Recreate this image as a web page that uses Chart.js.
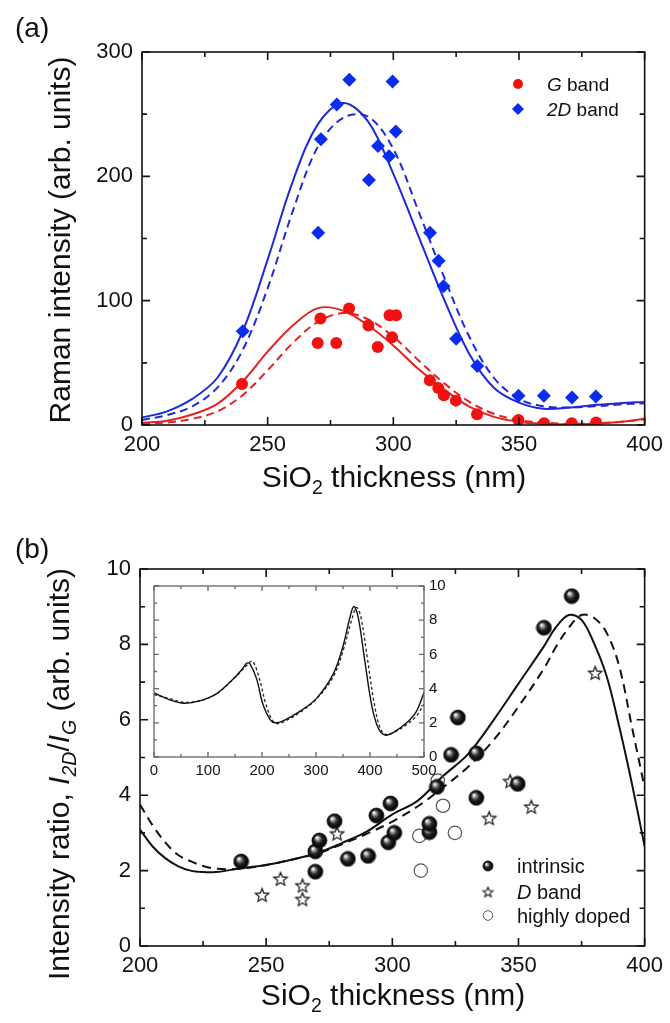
<!DOCTYPE html>
<html><head><meta charset="utf-8">
<script src="https://cdn.jsdelivr.net/npm/chart.js@4.4.1/dist/chart.umd.min.js"></script>
<style>
html,body{margin:0;padding:0;background:#fff;}
#wrap{position:relative;width:670px;height:1023px;overflow:hidden;font-family:"Liberation Sans",Arial,sans-serif;color:#111;}
canvas{position:absolute;}
.t{position:absolute;white-space:nowrap;font-size:30px;line-height:30px;}
.p{position:absolute;white-space:nowrap;font-size:28px;line-height:28px;}
.sub{font-size:0.65em;position:relative;top:0.38em;}
</style></head><body>
<div id="wrap">
<canvas id="ca" width="670" height="500" style="left:0;top:0;width:670px;height:500px"></canvas>
<canvas id="cb" width="670" height="523" style="left:0;top:500px;width:670px;height:523px"></canvas>
<canvas id="ci" width="340" height="210" style="left:124px;top:572px;width:340px;height:210px"></canvas>
<div class="p" style="left:15px;top:14px">(a)</div>
<div class="p" style="left:15px;top:535px">(b)</div>
<div class="t" style="left:394px;top:462px;transform:translateX(-50%)">SiO<span class="sub">2</span> thickness (nm)</div>
<div class="t" style="left:393px;top:980px;transform:translateX(-50%)">SiO<span class="sub">2</span> thickness (nm)</div>
<div class="t" style="left:60px;top:240px;transform:translate(-50%,-50%) rotate(-90deg)">Raman intensity (arb. units)</div>
<div class="t" style="left:60px;top:774px;transform:translate(-50%,-50%) rotate(-90deg)">Intensity ratio, <i>I</i><span class="sub"><i>2D</i></span>/<i>I</i><span class="sub"><i>G</i></span> (arb. units)</div>
</div>
<script>
// ---------- Panel (a) data ----------
const aTicksX = [200, 250, 300, 350, 400];
const aTicksY = [0, 100, 200, 300];
const gBandX = [239.8, 271, 269.9, 277.3, 282.4, 290.1, 293.8, 298.5, 301.1, 299.5, 314.5, 317.9, 320.1, 324.9, 333.3, 349.8, 360, 371, 380.7];
const gBandY = [33, 85.6, 66, 66, 93.8, 80, 62.7, 88.3, 88.3, 70.6, 36, 29.7, 24, 19.6, 8.7, 4, 1.5, 1.5, 2];
const dBandX = [240.1, 270.1, 271.2, 277.5, 282.5, 290.3, 293.9, 298.3, 299.7, 301, 314.6, 318, 320, 325, 333.4, 349.8, 359.9, 371.1, 380.6];
const dBandY = [75.4, 154.6, 229.8, 257.7, 277.6, 197, 224.3, 216.1, 276.2, 236, 154.6, 132.2, 111.5, 69.4, 47.5, 23.5, 23.5, 22.1, 23];
const aCurveX = [200, 210, 220, 230, 240, 250, 260, 270, 280, 290, 300, 310, 320, 330, 340, 350, 360, 370, 380, 390, 400];
const blueSolid = [6, 11, 21, 38, 75, 133, 196, 242, 259, 244, 202, 152, 102, 58, 30, 18, 13, 14, 16, 17.5, 18.6];
const blueDash = [4, 8, 15, 30, 60, 110, 172, 224, 247, 248, 222, 172, 120, 72, 38, 21, 15, 14, 15, 16.5, 17.5];
const redSolid = [1.6, 3.5, 8.5, 17, 35, 59, 80, 94, 92, 80, 64, 45, 29, 15, 6.5, 2.5, 1, 0.5, 1, 2.5, 5];
const redDash = [1, 2, 5, 11, 24, 44, 66, 83, 90, 85, 71, 52, 34, 19, 9, 4, 2, 1, 1.5, 2.5, 4.5];

// ---------- Panel (b) data ----------
const bTicksX = [200, 250, 300, 350, 400];
const bTicksY = [0, 2, 4, 6, 8, 10];
const intrinsicX = [240.1, 269.5, 269.5, 271.1, 277.1, 282.4, 290.4, 293.7, 298.4, 299.3, 300.8, 314.7, 314.7, 317.7, 323.3, 326, 333.3, 333.3, 349.7, 360.1, 371.1];
const intrinsicY = [2.24, 1.97, 2.51, 2.8, 3.31, 2.31, 2.39, 3.46, 2.75, 3.78, 3.0, 3.02, 3.24, 4.22, 5.07, 6.06, 5.11, 3.93, 4.3, 8.44, 9.28];
const dStarX = [248.4, 255.7, 264.4, 264.4, 278.1, 338.4, 346.7, 355.1, 380.4];
const dStarY = [1.35, 1.78, 1.6, 1.24, 2.98, 3.39, 4.37, 3.69, 7.24];
const dopedX = [310.7, 311.3, 320.1, 324.8, 318];
const dopedY = [2.92, 2.0, 3.72, 3.0, 4.39];
const bCurveX = [200, 205, 210, 215, 220, 225, 230, 240, 250, 260, 270, 280, 290, 300, 310, 320, 330, 340, 350, 360, 365, 370, 375, 380, 385, 390, 395, 400];
const ratioSolid = [3.09, 2.64, 2.33, 2.12, 2.0, 1.96, 1.96, 2.06, 2.15, 2.29, 2.46, 2.73, 3.04, 3.49, 3.85, 4.5, 5.09, 5.98, 6.96, 7.94, 8.47, 8.78, 8.65, 8.02, 7.14, 5.8, 4.29, 2.64];
const ratioDash = [3.75, 3.2, 2.75, 2.42, 2.25, 2.12, 2.05, 2.05, 2.15, 2.29, 2.45, 2.7, 2.98, 3.3, 3.7, 4.2, 4.75, 5.45, 6.35, 7.35, 7.95, 8.45, 8.78, 8.7, 8.3, 7.4, 5.8, 4.2];

// ---------- Inset data ----------
const insetTicksX = [0, 100, 200, 300, 400, 500];
const insetTicksY = [0, 2, 4, 6, 8, 10];
const insetSolidX = [0, 30, 55, 85, 116, 147, 165, 172, 178, 190, 202, 215, 224, 240, 270, 301, 332, 350, 363, 370, 378, 390, 403, 415, 428, 443, 468, 486, 500];
const insetSolidY = [3.75, 3.33, 3.14, 3.28, 3.71, 4.57, 5.2, 5.49, 5.43, 4.57, 3.05, 2.19, 2.0, 2.13, 2.67, 3.43, 4.86, 6.48, 8.19, 8.8, 8.19, 5.71, 3.05, 1.71, 1.28, 1.43, 2.0, 2.67, 3.77];
const insetDotX = [0, 30, 55, 85, 116, 147, 170, 182, 195, 207, 220, 230, 240, 270, 301, 332, 350, 365, 375, 383, 395, 408, 420, 432, 445, 468, 486, 500];
const insetDotY = [3.65, 3.4, 3.2, 3.3, 3.7, 4.55, 5.3, 5.6, 4.6, 3.1, 2.1, 1.95, 2.05, 2.6, 3.4, 4.7, 6.2, 7.9, 8.75, 8.2, 5.8, 3.1, 1.6, 1.3, 1.45, 1.9, 2.4, 3.1];

// ---------- helpers ----------
const FONT = '"Liberation Sans", Arial, sans-serif';
const pts = (xs, ys) => xs.map((x, i) => ({x: x, y: ys[i]}));
const fixW = w => s => { s.width = w; };
const fixH = h => s => { s.height = h; };
const tickCb = list => function(v){ return list.indexOf(v) >= 0 ? String(v) : ''; };

function makeSphere(r){
  const s = Math.ceil(r*2 + 2), c = document.createElement('canvas');
  c.width = c.height = s;
  const g = c.getContext('2d'), cx = s/2, cy = s/2;
  const gr = g.createRadialGradient(cx - r*0.35, cy - r*0.4, r*0.05, cx, cy, r);
  gr.addColorStop(0, '#ffffff'); gr.addColorStop(0.2, '#a8a8a8');
  gr.addColorStop(0.5, '#2a2a2a'); gr.addColorStop(0.85, '#050505'); gr.addColorStop(1, '#3a3a3a');
  g.fillStyle = gr; g.beginPath(); g.arc(cx, cy, r, 0, Math.PI*2); g.fill();
  g.strokeStyle = '#000'; g.lineWidth = 0.8; g.stroke();
  return c;
}
function makeStar(R, lw){
  const s = Math.ceil(R*2 + 4), c = document.createElement('canvas');
  c.width = c.height = s;
  const g = c.getContext('2d'), cx = s/2, cy = s/2 + R*0.08;
  g.beginPath();
  for (let i = 0; i < 10; i++){
    const rr = i % 2 ? R*0.45 : R, a = -Math.PI/2 + i*Math.PI/5;
    const px = cx + rr*Math.cos(a), py = cy + rr*Math.sin(a);
    i ? g.lineTo(px, py) : g.moveTo(px, py);
  }
  g.closePath(); g.fillStyle = '#fff'; g.fill();
  g.strokeStyle = '#222'; g.lineWidth = lw; g.stroke();
  return c;
}
const sphereBig = makeSphere(7.5), sphereSmall = makeSphere(5);
const starBig = makeStar(7, 1.3), starSmall = makeStar(5.2, 1.2);

// legend entries kept outside the Chart options (plain objects)
const legendItems = {
  ca: {size: 19, items: [
    {shape: 'circle', r: 5, fill: '#f21010', mx: 518, my: 84, tx: 547, parts: [{t: 'G', i: true}, {t: ' band'}]},
    {shape: 'diamond', r: 6, fill: '#0a2cf0', mx: 518, my: 109, tx: 547, parts: [{t: '2D', i: true}, {t: ' band'}]}
  ]},
  cb: {size: 20, items: [
    {img: sphereSmall, mx: 488, my: 366, tx: 517, parts: [{t: 'intrinsic'}]},
    {img: starSmall, mx: 488, my: 392, tx: 517, parts: [{t: 'D', i: true}, {t: ' band'}]},
    {shape: 'ring', r: 4.8, stroke: '#555', mx: 488, my: 415.5, tx: 517, parts: [{t: 'highly doped'}]}
  ]}
};
// frame + inward ticks on all four sides, positioned through the chart's scales
const frameCfg = {
  ca: {color: '#111', lw: 1.6, major: 8, minor: 5, xMajor: 50, xMinor: 25, yMajor: 100, yMinor: 50},
  cb: {color: '#111', lw: 1.6, major: 8, minor: 5, xMajor: 50, xMinor: 25, yMajor: 2, yMinor: 1},
  ci: {color: '#666', lw: 1.3, major: 5, minor: 3, xMajor: 100, xMinor: 50, yMajor: 2, yMinor: 1}
};
const framePlugin = {
  id: 'frame',
  afterDatasetsDraw(chart){
    const o = frameCfg[chart.canvas.id]; if (!o) return;
    const ctx = chart.ctx, a = chart.chartArea, x = chart.scales.x, y = chart.scales.y;
    ctx.save();
    ctx.strokeStyle = o.color; ctx.lineWidth = o.lw; ctx.setLineDash([]);
    ctx.strokeRect(a.left, a.top, a.right - a.left, a.bottom - a.top);
    ctx.beginPath();
    for (let v = x.min; v <= x.max + 1e-9; v += o.xMinor){
      const q = (v - x.min) / o.xMajor, len = Math.abs(q - Math.round(q)) < 1e-6 ? o.major : o.minor;
      const px = x.getPixelForValue(v);
      ctx.moveTo(px, a.bottom); ctx.lineTo(px, a.bottom - len);
      ctx.moveTo(px, a.top); ctx.lineTo(px, a.top + len);
    }
    for (let v = y.min; v <= y.max + 1e-9; v += o.yMinor){
      const q = (v - y.min) / o.yMajor, len = Math.abs(q - Math.round(q)) < 1e-6 ? o.major : o.minor;
      const py = y.getPixelForValue(v);
      ctx.moveTo(a.left, py); ctx.lineTo(a.left + len, py);
      ctx.moveTo(a.right, py); ctx.lineTo(a.right - len, py);
    }
    ctx.stroke();
    ctx.restore();
  }
};
const legendPlugin = {
  id: 'leg',
  afterDraw(chart){
    const o = legendItems[chart.canvas.id]; if (!o) return;
    const ctx = chart.ctx;
    ctx.save(); ctx.setLineDash([]);
    o.items.forEach(it => {
      if (it.img){ ctx.drawImage(it.img, it.mx - it.img.width/2, it.my - it.img.height/2); }
      else if (it.shape === 'circle'){
        ctx.beginPath(); ctx.arc(it.mx, it.my, it.r, 0, Math.PI*2); ctx.fillStyle = it.fill; ctx.fill();
      } else if (it.shape === 'ring'){
        ctx.beginPath(); ctx.arc(it.mx, it.my, it.r, 0, Math.PI*2); ctx.strokeStyle = it.stroke; ctx.lineWidth = 1; ctx.stroke();
      } else if (it.shape === 'diamond'){
        ctx.beginPath(); ctx.moveTo(it.mx, it.my - it.r); ctx.lineTo(it.mx + it.r, it.my);
        ctx.lineTo(it.mx, it.my + it.r); ctx.lineTo(it.mx - it.r, it.my); ctx.closePath();
        ctx.fillStyle = it.fill; ctx.fill();
      }
      let tx = it.tx;
      ctx.fillStyle = '#111'; ctx.textBaseline = 'alphabetic'; ctx.textAlign = 'left';
      it.parts.forEach(p => {
        ctx.font = (p.i ? 'italic ' : '') + o.size + 'px ' + FONT;
        ctx.fillText(p.t, tx, it.my + o.size*0.36);
        tx += ctx.measureText(p.t).width;
      });
    });
    ctx.restore();
  }
};
Chart.register(framePlugin, legendPlugin);

function axisX(min, max, step, list, size, pad, h){
  return {type: 'linear', position: 'bottom', min: min, max: max,
    ticks: {stepSize: step, autoSkip: false, maxRotation: 0, padding: pad, color: '#111', font: {family: FONT, size: size}, callback: tickCb(list)},
    grid: {display: false, drawTicks: false}, border: {display: false}, afterFit: fixH(h)};
}
function axisY(min, max, step, list, size, pad, w, pos){
  return {type: 'linear', position: pos || 'left', min: min, max: max,
    ticks: {stepSize: step, autoSkip: false, padding: pad, color: '#111', font: {family: FONT, size: size}, callback: tickCb(list)},
    grid: {display: false, drawTicks: false}, border: {display: false}, afterFit: fixW(w)};
}
function curve(xs, ys, color, width, dash){
  return {data: pts(xs, ys), showLine: true, borderColor: color, borderWidth: width, borderDash: dash || [],
    pointRadius: 0, fill: false, tension: 0.35};
}
const common = {responsive: false, animation: false, events: [], devicePixelRatio: 1};
const noPlug = {legend: {display: false}, tooltip: {enabled: false}};

// ---------- Chart (a) ----------
new Chart(document.getElementById('ca'), {
  type: 'scatter',
  data: {datasets: [
    {data: pts(dBandX, dBandY), pointStyle: 'rectRot', pointRadius: 7, backgroundColor: '#0a2cf0', borderColor: '#0a2cf0', borderWidth: 0},
    {data: pts(gBandX, gBandY), pointStyle: 'circle', pointRadius: 6, backgroundColor: '#f21010', borderColor: '#f21010', borderWidth: 0},
    curve(aCurveX, blueSolid, '#1e2ad8', 2),
    curve(aCurveX, blueDash, '#1e2ad8', 2, [8, 5]),
    curve(aCurveX, redSolid, '#e42222', 2),
    curve(aCurveX, redDash, '#e42222', 2, [8, 5])
  ]},
  options: Object.assign({}, common, {
    layout: {padding: {left: 0, right: 24, top: 52, bottom: 0}},
    scales: {x: axisX(200, 400, 50, aTicksX, 22, 7, 75), y: axisY(0, 300, 100, aTicksY, 22, 9, 142)},
    plugins: noPlug
  })
});

// ---------- Chart (b) ----------
new Chart(document.getElementById('cb'), {
  type: 'scatter',
  data: {datasets: [
    {data: pts(intrinsicX, intrinsicY), pointStyle: sphereBig},
    {data: pts(dStarX, dStarY), pointStyle: starBig},
    {data: pts(dopedX, dopedY), pointStyle: 'circle', pointRadius: 6.7, backgroundColor: 'rgba(255,255,255,0)', borderColor: '#555', borderWidth: 1.2},
    curve(bCurveX, ratioSolid, '#111', 2),
    curve(bCurveX, ratioDash, '#111', 2, [9, 6])
  ]},
  options: Object.assign({}, common, {
    layout: {padding: {left: 0, right: 24, top: 69, bottom: 0}},
    scales: {x: axisX(200, 400, 50, bTicksX, 22, 7, 77), y: axisY(0, 10, 2, bTicksY, 22, 9, 140)},
    plugins: noPlug
  })
});

// ---------- Inset ----------
new Chart(document.getElementById('ci'), {
  type: 'scatter',
  data: {datasets: [
    curve(insetSolidX, insetSolidY, '#111', 1.4),
    curve(insetDotX, insetDotY, '#222', 1.3, [3, 2.5])
  ]},
  options: Object.assign({}, common, {
    layout: {padding: {left: 30, right: 0, top: 10, bottom: 0}},
    scales: {x: axisX(0, 500, 100, insetTicksX, 15, 5, 25), y: axisY(0, 10, 2, insetTicksY, 15, 5, 40, 'right')},
    plugins: noPlug
  })
});
</script>
</body></html>
